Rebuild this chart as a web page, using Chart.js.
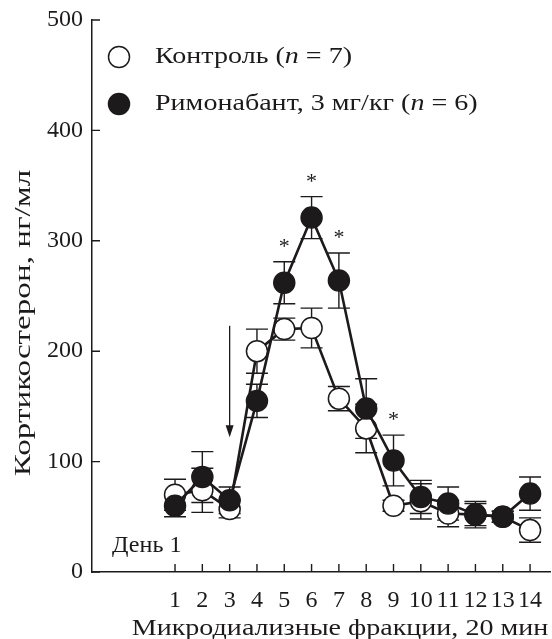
<!DOCTYPE html>
<html>
<head>
<meta charset="utf-8">
<script src="https://cdn.jsdelivr.net/npm/chart.js@4"></script>
<style>
html,body{margin:0;padding:0;background:#fff;}
#wrap{width:552px;height:639px;position:relative;}
</style>
</head>
<body>
<div id="wrap"><canvas id="c"></canvas></div>
<script>
// ---- data ----
const fractions = [1, 2, 3, 4, 5, 6, 7, 8, 9, 10, 11, 12, 13, 14];
const xTickLabels = ['1','2','3','4','5','6','7','8','9','10','11','12','13','14'];
const yTickValues = [0, 100, 200, 300, 400, 500];
const controlMean = [70, 74, 57, 200, 220, 221, 157, 130, 60, 64, 53, 52, 50, 38];
const controlSem  = [14, 20, 8, 20, 10, 18, 11, 22, 5, 16, 12, 10, 5, 11];
const rimonabantMean = [60, 86, 65, 155, 262, 321, 264, 148, 101, 68, 62, 52, 50, 71];
const rimonabantSem  = [10, 23, 12, 15, 19, 19, 25, 27, 23, 15, 15, 12, 5, 15];
const starFractions = [5, 6, 7, 9];
const arrowFraction = 3;
const arrowFromValue = 223;
const arrowToValue = 122;
const legendControl = ['Контроль (', 'n', ' = 7)'];
const legendRimonabant = ['Римонабант, 3 мг/кг (', 'n', ' = 6)'];
const dayLabel = 'День 1';
const yTitle = 'Кортикостерон, нг/мл';
const xTitle = 'Микродиализные фракции, 20 мин';

const FONT = '"Liberation Serif", "Times New Roman", serif';
const INK = '#1c1a1b';

const series = [
  {mean: controlMean, sem: controlSem},
  {mean: rimonabantMean, sem: rimonabantSem}
];

function drawParts(ctx, parts, x, y, size, stretch, align, baseline) {
  ctx.save();
  ctx.textBaseline = baseline;
  ctx.textAlign = 'left';
  let total = 0;
  const widths = parts.map((p, k) => {
    ctx.font = (k % 2 === 1 ? 'italic ' : '') + size + 'px ' + FONT;
    const w = ctx.measureText(p).width;
    total += w;
    return w;
  });
  ctx.translate(x, y);
  ctx.scale(stretch, 1);
  let tx = align === 'center' ? -total / 2 : 0;
  parts.forEach((p, k) => {
    ctx.font = (k % 2 === 1 ? 'italic ' : '') + size + 'px ' + FONT;
    ctx.fillText(p, tx, 0);
    tx += widths[k];
  });
  ctx.restore();
}

const overlay = {
  id: 'overlay',
  beforeDatasetsDraw(chart) {
    const ctx = chart.ctx, xs = chart.scales.x, ys = chart.scales.y;
    ctx.save();
    ctx.strokeStyle = INK;
    ctx.lineWidth = 1.4;
    series.forEach(s => {
      fractions.forEach((f, j) => {
        const x = xs.getPixelForValue(f);
        const yt = ys.getPixelForValue(s.mean[j] + s.sem[j]);
        const yb = ys.getPixelForValue(s.mean[j] - s.sem[j]);
        ctx.beginPath();
        ctx.moveTo(x, yt); ctx.lineTo(x, yb);
        ctx.moveTo(x - 11, yt); ctx.lineTo(x + 11, yt);
        ctx.moveTo(x - 11, yb); ctx.lineTo(x + 11, yb);
        ctx.stroke();
      });
    });
    ctx.restore();
  },
  afterDraw(chart) {
    const ctx = chart.ctx, xs = chart.scales.x, ys = chart.scales.y;
    const ca = chart.chartArea;
    ctx.save();
    ctx.strokeStyle = INK;
    ctx.fillStyle = INK;
    ctx.lineWidth = 1.4;
    ctx.beginPath();
    yTickValues.forEach(v => {
      const y = ys.getPixelForValue(v);
      ctx.moveTo(ca.left, y); ctx.lineTo(ca.left + 8, y);
    });
    fractions.forEach(f => {
      const x = xs.getPixelForValue(f);
      ctx.moveTo(x, ca.bottom); ctx.lineTo(x, ca.bottom - 8);
    });
    ctx.stroke();

    ctx.font = '22px ' + FONT;
    ctx.textAlign = 'center';
    ctx.textBaseline = 'alphabetic';
    starFractions.forEach(f => {
      const j = fractions.indexOf(f);
      const x = xs.getPixelForValue(f);
      const yt = ys.getPixelForValue(rimonabantMean[j] + rimonabantSem[j]);
      ctx.fillText('*', x, yt - 9);
    });

    const ax = xs.getPixelForValue(arrowFraction);
    const ay1 = ys.getPixelForValue(arrowFromValue);
    const ay2 = ys.getPixelForValue(arrowToValue);
    ctx.beginPath();
    ctx.lineWidth = 1.3;
    ctx.moveTo(ax, ay1); ctx.lineTo(ax, ay2 - 8);
    ctx.stroke();
    ctx.beginPath();
    ctx.moveTo(ax, ay2);
    ctx.lineTo(ax - 4, ay2 - 12);
    ctx.lineTo(ax + 4, ay2 - 12);
    ctx.closePath();
    ctx.fill();

    ctx.lineWidth = 1.5;
    const lx = 119;
    const rows = [
      {y: 57, fill: '#ffffff', parts: legendControl},
      {y: 104, fill: INK, parts: legendRimonabant}
    ];
    rows.forEach(r => {
      ctx.beginPath();
      ctx.arc(lx, r.y, 10.5, 0, Math.PI * 2);
      ctx.fillStyle = r.fill;
      ctx.fill();
      ctx.stroke();
      ctx.fillStyle = INK;
      drawParts(ctx, r.parts, 155, r.y, 23, 1.22, 'left', 'middle');
    });

    drawParts(ctx, [dayLabel], 112, 552, 23, 1.05, 'left', 'alphabetic');

    drawParts(ctx, [xTitle], 340, 635, 23, 1.22, 'center', 'alphabetic');
    ctx.save();
    ctx.translate(30, 323);
    ctx.rotate(-Math.PI / 2);
    drawParts(ctx, [yTitle], 0, 0, 24, 1.38, 'center', 'alphabetic');
    ctx.restore();
    ctx.restore();
  }
};

const chart = new Chart(document.getElementById('c'), {
  type: 'line',
  data: {
    datasets: [
      {
        label: 'Контроль (n = 7)',
        data: fractions.map((f, i) => ({x: f, y: controlMean[i]})),
        borderColor: INK,
        borderWidth: 2.6,
        pointRadius: 10.5,
        pointBackgroundColor: '#ffffff',
        pointBorderColor: INK,
        pointBorderWidth: 1.5,
        tension: 0,
        order: 2
      },
      {
        label: 'Римонабант, 3 мг/кг (n = 6)',
        data: fractions.map((f, i) => ({x: f, y: rimonabantMean[i]})),
        borderColor: INK,
        borderWidth: 2.6,
        pointRadius: 10.5,
        pointBackgroundColor: INK,
        pointBorderColor: INK,
        pointBorderWidth: 1.5,
        tension: 0,
        order: 1
      }
    ]
  },
  options: {
    responsive: true,
    maintainAspectRatio: false,
    animation: false,
    devicePixelRatio: 1,
    layout: {autoPadding: false, padding: {top: 20, right: 2, left: 0, bottom: 0}},
    plugins: {legend: {display: false}, tooltip: {enabled: false}},
    scales: {
      x: {
        type: 'linear',
        min: -2.04,
        max: 14.73,
        afterBuildTicks: s => { s.ticks = fractions.map(v => ({value: v})); },
        afterFit: s => { s.height = 67; s.paddingLeft = 0; s.paddingRight = 0; },
        grid: {display: false, tickLength: 0},
        border: {display: true, color: INK, width: 1.5},
        ticks: {
          autoSkip: false,
          maxRotation: 0,
          padding: 14,
          color: INK,
          font: {family: FONT, size: 24},
          callback: (v) => xTickLabels[fractions.indexOf(v)]
        }
      },
      y: {
        type: 'linear',
        min: 0,
        max: 500,
        afterBuildTicks: s => { s.ticks = yTickValues.map(v => ({value: v})); },
        afterFit: s => { s.width = 92; s.paddingTop = 0; s.paddingBottom = 0; },
        grid: {display: false, tickLength: 0},
        border: {display: true, color: INK, width: 1.5},
        ticks: {
          padding: 9,
          color: INK,
          font: {family: FONT, size: 24}
        }
      }
    }
  },
  plugins: [overlay]
});
</script>
</body>
</html>
